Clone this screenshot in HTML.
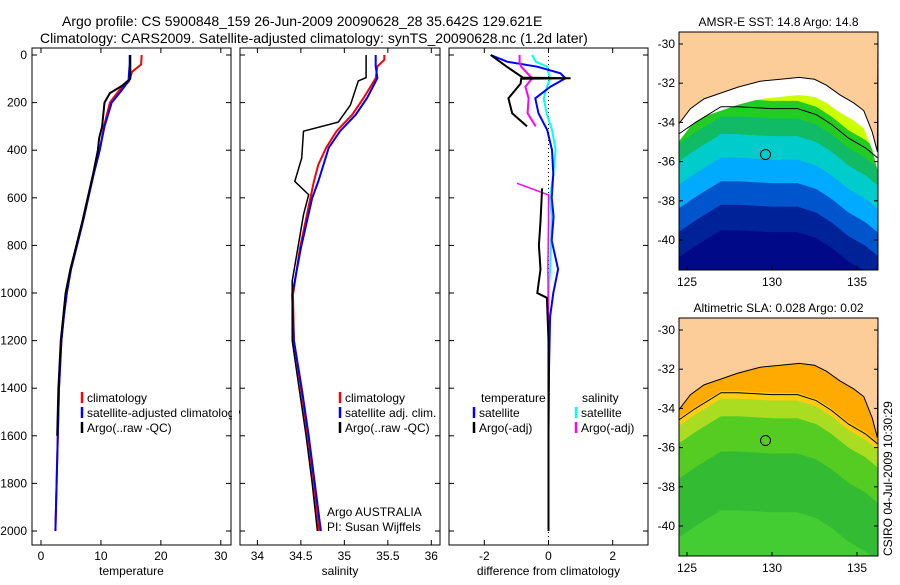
<!DOCTYPE html>
<html><head><meta charset="utf-8"><style>
body{margin:0;background:#fff;font-family:"Liberation Sans",sans-serif}
svg text{font-family:"Liberation Sans",sans-serif;font-size:12px}
</style></head><body>
<svg id="c" width="900" height="580" xmlns="http://www.w3.org/2000/svg">
<text x="62" y="26" style="font-size:14px">Argo profile: CS 5900848_159 26-Jun-2009 20090628_28 35.642S 129.621E</text>
<text x="40" y="43" style="font-size:14px">Climatology: CARS2009. Satellite-adjusted climatology: synTS_20090628.nc (1.2d later)</text>
<g id="g"></g>
</svg>
<script>
// ---- data ----
const tDepth=[0,40,70,110,150,200,300,400,500,600,700,800,900,1000,1100,1200,1400,1600,1800,2000];
const tClim=[16.8,16.7,15.2,14.7,13.0,11.5,10.5,9.8,8.8,7.9,7.0,6.0,5.0,4.3,3.8,3.4,3.0,2.8,2.6,2.4];
const tSat=[14.8,14.8,14.7,14.6,13.4,11.8,10.6,9.8,8.8,7.9,7.0,6.0,5.0,4.3,3.8,3.4,3.0,2.8,2.6,2.4];
const tArgoDepth=[0,100,130,160,200,300,350,400,500,600,700,800,900,1000,1100,1200,1400,1600];
const tArgo=[14.9,14.9,13.5,11.5,10.6,10.2,9.7,9.5,8.7,7.8,6.9,5.9,4.9,4.1,3.7,3.3,2.9,2.7];
const sDepth=[0,20,48,97,181,251,320,390,461,531,601,811,1007,1200,1400,1600,1800,2000];
const sClim=[35.46,35.46,35.38,35.36,35.22,35.09,34.91,34.79,34.70,34.65,34.61,34.49,34.41,34.42,34.50,34.58,34.65,34.71];
const sSat=[35.36,35.36,35.36,35.38,35.26,35.13,34.95,34.82,34.76,34.70,34.63,34.50,34.40,34.42,34.51,34.59,34.66,34.73];
const sArgoDepth=[0,95,109,210,282,320,433,531,587,671,950,1200,1400,1600,1800,2000];
const sArgo=[35.25,35.25,35.16,35.07,34.93,34.53,34.51,34.43,34.59,34.53,34.40,34.40,34.48,34.56,34.63,34.69];
const dDepth=[0,28,49,77,98,133,182,245,315,399,500,600,679,780,900,1000,1100,1300,1600,2000];
const dTSat=[-1.8,-1.29,-0.35,0.37,0.53,0.06,-0.41,-0.31,-0.04,0.11,0.15,0.1,0.16,0.1,0.3,0.15,0.05,0.02,0.0,0.0];
const dSSat=[-0.51,-0.4,-0.04,0.0,0.06,-0.05,-0.15,-0.06,0.11,0.22,0.15,0.05,0.1,0.08,0.05,0.0,0.0,0.0,0.0,0.0];
const dTArgoDepth=[0,49,95,98,100,120,182,245,300];
const dTArgo=[-1.8,-1.3,-0.8,0.69,-0.85,-0.87,-1.25,-1.13,-0.67];
const dTArgoDeepDepth=[560,700,800,900,1000,1020,1200,1600,2000];
const dTArgoDeep=[-0.2,-0.25,-0.3,-0.25,-0.35,-0.05,0.0,0.0,0.0];
const dSArgoDepth=[0,30,49,98,133,182,245,300];
const dSArgo=[-0.9,-0.9,-0.85,-0.51,-0.72,-0.62,-0.65,-0.4];
const dSArgoDeepDepth=[539,588,700,900,1200,1600,2000];
const dSArgoDeep=[-0.98,0.0,0.0,-0.02,0.0,0.0,0.0];
const depthTicks=[0,200,400,600,800,1000,1200,1400,1600,1800,2000];
// ---- helpers ----
const NS='http://www.w3.org/2000/svg',G=document.getElementById('g');
function el(t,a,p){const e=document.createElementNS(NS,t);for(const k in a)e.setAttribute(k,a[k]);(p||G).appendChild(e);return e;}
const yD=d=>55+d*0.238;
function panel(x0,x1,xmin,xmax,ticks,label,name){
  const sx=v=>x0+(v-xmin)/(xmax-xmin)*(x1-x0);
  const r=el('rect',{x:x0,y:48,width:x1-x0,height:497,fill:'none',stroke:'#000'});
  
  ticks.forEach(t=>{const X=sx(t);el('line',{x1:X,y1:48,x2:X,y2:53,stroke:'#000'});el('line',{x1:X,y1:545,x2:X,y2:540,stroke:'#000'});
    const tx=el('text',{x:X,y:560,'text-anchor':'middle'});tx.textContent=t;
    });
  depthTicks.forEach(d=>{el('line',{x1:x0,y1:yD(d),x2:x0+5,y2:yD(d),stroke:'#000'});el('line',{x1:x1,y1:yD(d),x2:x1-5,y2:yD(d),stroke:'#000'});});
  const lb=el('text',{x:(x0+x1)/2,y:575,'text-anchor':'middle'});lb.textContent=label;
  
  return sx;
}
function line(sx,ds,vs,col,w,name){
  const p=el('polyline',{points:ds.map((d,i)=>sx(vs[i]).toFixed(1)+','+yD(d).toFixed(1)).join(' '),fill:'none',stroke:col,'stroke-width':w});
  
}
function legend(x,y,items,name){
  items.forEach((it,i)=>{el('line',{x1:x,y1:y+i*15-10,x2:x,y2:y+i*15+1,stroke:it[1],'stroke-width':2.5});
    const t=el('text',{x:x+5,y:y+i*15});t.textContent=it[0];
    });
}
depthTicks.forEach(d=>{const t=el('text',{x:27,y:yD(d)+4,'text-anchor':'end'});t.textContent=d;
  });
// panel 1
const s1=panel(32,231,-1.5,31.7,[0,10,20,30],'temperature','temp-panel');
line(s1,tDepth,tClim,'#f00',2,'temp-climatology-line');
line(s1,tDepth,tSat,'#00f',2,'temp-satellite-line');
line(s1,tArgoDepth,tArgo,'#000',2,'temp-argo-line');
legend(82,402,[['climatology','#f00'],['satellite-adjusted climatology','#00f'],['Argo(..raw -QC)','#000']],'temp-legend');
el('rect',{x:232,y:395,width:7,height:40,fill:'#fff'});
// panel 2
const s2=panel(240,440,33.8,36.1,[34,34.5,35,35.5,36],'salinity','sal-panel');
line(s2,sDepth,sClim,'#f00',2,'sal-climatology-line');
line(s2,sDepth,sSat,'#00f',2,'sal-satellite-line');
line(s2,sArgoDepth,sArgo,'#000',1.5,'sal-argo-line');
legend(340,402,[['climatology','#f00'],['satellite adj. clim.','#00f'],['Argo(..raw -QC)','#000']],'sal-legend');
[['Argo AUSTRALIA',516],['PI: Susan Wijffels',531]].forEach(a=>{const t=el('text',{x:327,y:a[1]});t.textContent=a[0];
  });
// panel 3
const s3=panel(449,648,-3.1,3.1,[-2,0,2],'difference from climatology','diff-panel');
el('line',{x1:s3(0),y1:48,x2:s3(0),y2:545,stroke:'#000','stroke-dasharray':'1,3'});
line(s3,dDepth,dSSat,'#0ff',2,'diff-sal-satellite-line');
line(s3,dDepth,dTSat,'#00f',2,'diff-temp-satellite-line');
line(s3,dSArgoDepth,dSArgo,'#f0f',2,'diff-sal-argo-line');
line(s3,dSArgoDeepDepth,dSArgoDeep,'#f0f',1.5,'diff-sal-argo-deep-line');
line(s3,dTArgoDepth,dTArgo,'#000',2,'diff-temp-argo-line');
line(s3,dTArgoDeepDepth,dTArgoDeep,'#000',2,'diff-temp-argo-deep-line');
legend(474,417,[['satellite','#00f'],['Argo(-adj)','#000']],'diff-temp-legend');
legend(576,417,[['satellite','#0ff'],['Argo(-adj)','#f0f']],'diff-sal-legend');
[['temperature',481],['salinity',582]].forEach(a=>{const t=el('text',{x:a[1],y:402});t.textContent=a[0];
  });
// ---- maps ----
const coastLon=[124.5,125.2,126,127,128,129.3,130.5,131.6,132.5,133.2,134,134.8,135.4,135.9,136.2];
const coastLat=[-34.1,-33.3,-32.8,-32.5,-32.2,-31.9,-31.8,-31.7,-31.8,-32.1,-32.6,-33.0,-33.4,-34.5,-35.5];
const shelfLon=[124.5,125.5,127,128,130,131.5,132.6,133.5,134.5,135.5,136.2];
const shelfLat=[-34.6,-34.0,-33.2,-33.2,-33.3,-33.3,-33.6,-34.1,-34.8,-35.3,-35.8];
function map(y0,title,name,bands,landCol,coastBand){
  const x0=679,w=199,h=238;
  const mx=l=>x0+(l-124.53)*17, my=la=>y0+12+(-30-la)*19.6;
  const clip='clip'+name;
  const cp=el('clipPath',{id:clip});el('rect',{x:x0,y:y0,width:w,height:h},cp);
  const g=el('g',{'clip-path':'url(#'+clip+')'});
  
  el('rect',{x:x0,y:y0,width:w,height:h,fill:bands[0][1]},g);
  bands.forEach(b=>{el('polygon',{points:shelfLon.map((l,i)=>mx(l)+','+my(shelfLat[i]+b[0])).join(' ')+' '+(x0+w)+','+(y0+h)+' '+x0+','+(y0+h),fill:b[1]},g);});
  if(coastBand) el('polygon',{points:coastLon.map((l,i)=>mx(l)+','+my(coastLat[i]-0.9)).join(' ')+' '+(x0+w)+','+y0+' '+x0+','+y0,fill:coastBand},g);
  el('polygon',{points:coastLon.map((l,i)=>mx(l)+','+my(coastLat[i])).join(' ')+' '+(x0+w)+','+y0+' '+x0+','+y0,fill:landCol,stroke:'#000','stroke-width':1},g);
  el('polyline',{points:shelfLon.map((l,i)=>mx(l)+','+my(shelfLat[i])).join(' '),fill:'none',stroke:'#000'},g);
  el('circle',{cx:mx(129.62),cy:my(-35.64),r:5,fill:'none',stroke:'#000'},g);
  el('rect',{x:x0,y:y0,width:w,height:h,fill:'none',stroke:'#000'});
  [-30,-32,-34,-36,-38,-40].forEach(la=>{const t=el('text',{x:x0-4,y:my(la)+4,'text-anchor':'end'});t.textContent=la;
    
    el('line',{x1:x0,y1:my(la),x2:x0+4,y2:my(la),stroke:'#000'});el('line',{x1:x0+w,y1:my(la),x2:x0+w-4,y2:my(la),stroke:'#000'});});
  [125,130,135].forEach(l=>{const t=el('text',{x:mx(l),y:y0+h+16,'text-anchor':'middle'});t.textContent=l;
    
    el('line',{x1:mx(l),y1:y0+h,x2:mx(l),y2:y0+h-4,stroke:'#000'});});
  const tt=el('text',{x:x0+w/2,y:y0-6,'text-anchor':'middle'});tt.textContent=title;
  
}
map(32,'AMSR-E SST: 14.8 Argo: 14.8','sst-map',[[1.2,'#ccff00'],[0.4,'#22cc22'],[-0.5,'#11bb66'],[-1.4,'#00cccc'],[-2.6,'#00aaff'],[-3.8,'#0055cc'],[-5,'#002299'],[-6.3,'#000a88']],'#fccc99','#ffffff');
map(318,'Altimetric SLA: 0.028 Argo: 0.02','sla-map',[[1.5,'#ffaa00'],[0.1,'#ffcc11'],[-0.3,'#aadd22'],[-1.2,'#55cc22'],[-3,'#33bb33'],[-6,'#44cc33']],'#fccc99',null);
const cs=el('text',{x:892,y:556,transform:'rotate(-90 892 556)'});cs.textContent='CSIRO 04-Jul-2009 10:30:29';

</script>
</body></html>
